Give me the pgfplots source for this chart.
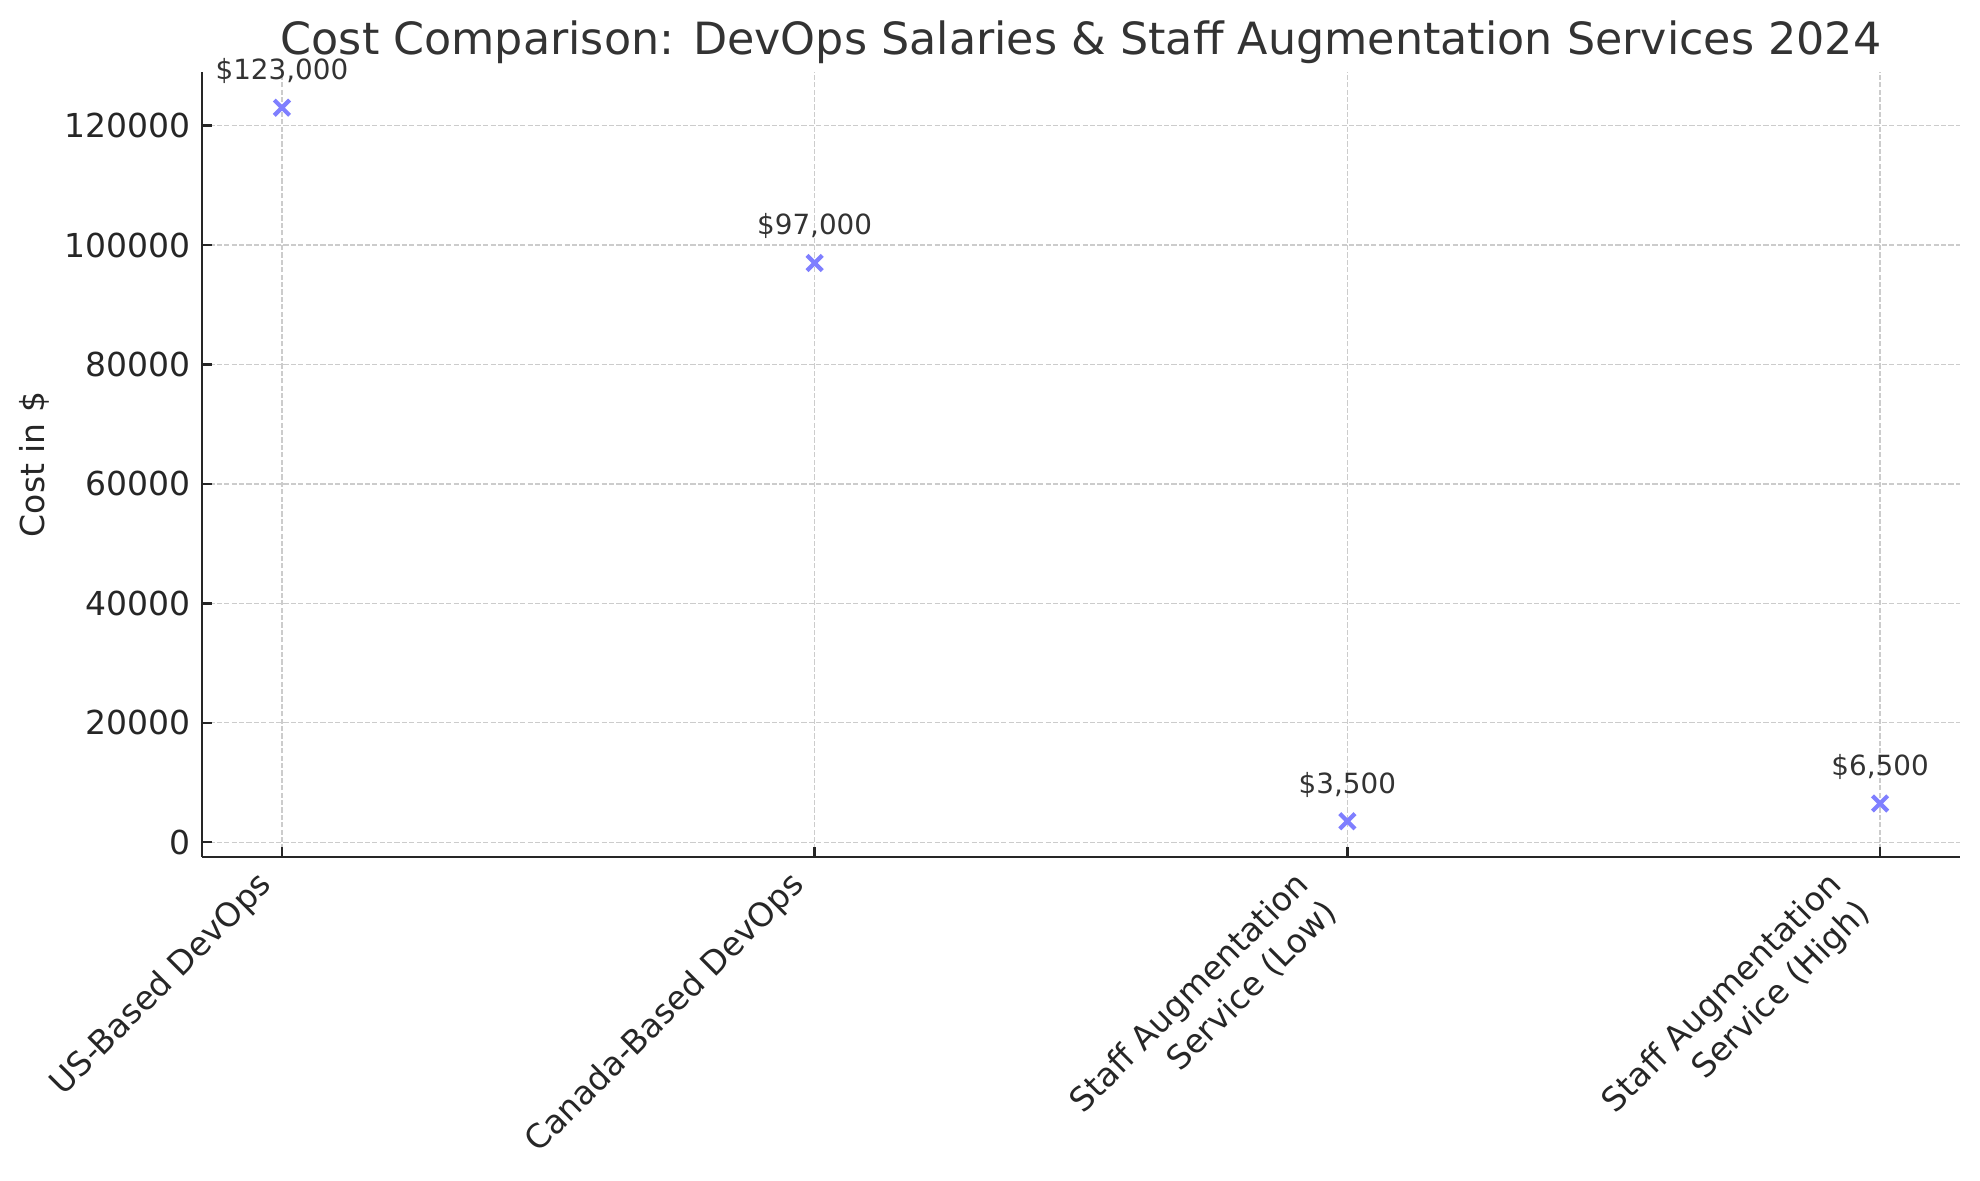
\documentclass[border=0pt]{standalone}
\usepackage{fontspec}
\setmainfont{DejaVu Sans}
\usepackage{graphicx}
\usepackage{pgfplots}
\pgfplotsset{compat=1.18}
\definecolor{mk}{HTML}{7F7FFF}
\definecolor{txt}{HTML}{333333}
\definecolor{tk}{HTML}{262626}
\definecolor{gr}{HTML}{CCCCCC}
\newcommand{\tkfont}{\fontsize{16.5}{19.8}\selectfont}
\newcommand{\rl}[1]{\rotatebox{45}{\begin{tabular}{@{}r@{}}#1\end{tabular}}}
\begin{document}
\begin{tikzpicture}
\path[use as bounding box] (0,0) rectangle (990pt,590pt);
\begin{axis}[
  at={(101pt,161.5pt)}, anchor=south west,
  scale only axis, width=879pt, height=392.5pt,
  xmin=-0.15, xmax=3.15, ymin=-2475, ymax=128975,
  clip=false,
  axis x line*=bottom, axis y line*=left,
  axis line style={-, line width=1.35pt, black!85},
  tick align=inside, major tick length=5pt,
  tick style={line width=1.2pt, black!85},
  xtick={0,1,2,3},
  xticklabels={\rl{US-Based DevOps}, \rl{Canada-Based DevOps}, \rl{Staff Augmentation\\Service (Low)}, \rl{Staff Augmentation\\Service (High)}},
  ytick={0,20000,40000,60000,80000,100000,120000},
  scaled y ticks=false,
  /pgf/number format/fixed,
  /pgf/number format/precision=0,
  /pgf/number format/1000 sep={},
  /pgf/number format/assume math mode=true,
  yticklabel style={anchor=east, inner sep=0pt, xshift=-5.5pt, font=\tkfont, text=tk},
  xticklabel style={anchor=north east, inner sep=0pt, yshift=-4.9pt, font=\tkfont, text=tk},
  xmajorgrids, ymajorgrids,
  major grid style={gr, dash pattern=on 2.6pt off 1.1pt, line width=0.7pt},
  title={Cost Comparison: DevOps Salaries \& Staff Augmentation Services 2024},
  every axis title/.style={at={(axis description cs:0.5,1)}, anchor=base, yshift=8.5pt, font=\fontsize{22.2}{26}\selectfont, text=txt},
  ylabel={Cost in \$},
  every axis y label/.style={at={(axis description cs:-0.0956,0.5)}, rotate=90, anchor=center, font=\tkfont, text=tk},
]
\addplot[only marks, mark=x, mark size=5.4pt, mk, line width=2.1pt,
  nodes near coords={\pgfplotspointmeta}, point meta=explicit symbolic,
  every node near coord/.append style={anchor=base, yshift=14pt, inner sep=0pt, font=\fontsize{13.9}{16}\selectfont, text=txt}]
coordinates {
  (0,123000) [\textdollar 123,000]
  (1,97000) [\textdollar 97,000]
  (2,3500) [\textdollar 3,500]
  (3,6500) [\textdollar 6,500]
};
\end{axis}
\end{tikzpicture}
\end{document}
